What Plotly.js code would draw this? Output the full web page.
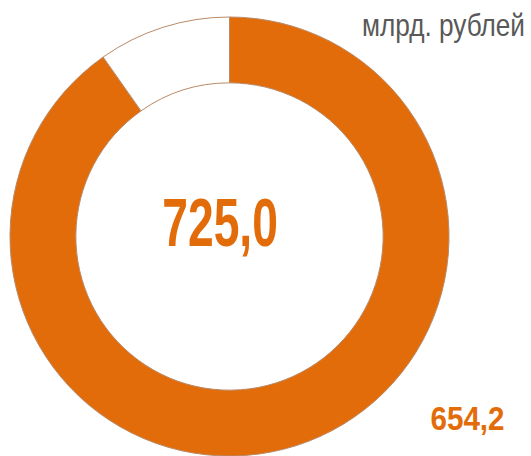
<!DOCTYPE html>
<html><head><meta charset="utf-8">
<script src="https://cdn.plot.ly/plotly-3.0.1.min.js"></script>
<style>html,body{margin:0;padding:0;background:#fff;}#c{width:531px;height:456px;}</style>
</head><body><div id="c"></div>
<script>
const labels = ["654,2", "остаток"];
const values = [654.2, 70.8];
const totalLabel = "725,0";
const unitLabel = "млрд. рублей";
const sliceColors = ["#E36C0A", "#FFFFFF"];

const trace = {
  type: "pie",
  labels: labels,
  values: values,
  hole: 0.70,
  sort: false,
  direction: "clockwise",
  rotation: 0,
  textinfo: "none",
  hoverinfo: "none",
  marker: {colors: sliceColors, line: {color: "#B98A68", width: 1}},
  domain: {x: [10/531, 449/531], y: [0, 1 - 17/456]},
  showlegend: false
};

const fam = "Liberation Sans, Arial, sans-serif";
const layout = {
  width: 531, height: 456,
  margin: {l: 0, r: 0, t: 0, b: 0},
  paper_bgcolor: "#fff",
  showlegend: false,
  annotations: [
    {text: "<b>" + totalLabel + "</b>", x: 220/531, y: 1 - 222/456, xref: "paper", yref: "paper",
     xanchor: "center", yanchor: "middle", showarrow: false,
     font: {family: fam, size: 68, color: "#E36C0A"}},
    {text: "<b>" + labels[0] + "</b>", x: 467/531, y: 1 - 418/456, xref: "paper", yref: "paper",
     xanchor: "center", yanchor: "middle", showarrow: false,
     font: {family: fam, size: 34, color: "#E36C0A"}},
    {text: unitLabel, x: 527/531, y: 1 - 26/456, xref: "paper", yref: "paper",
     xanchor: "right", yanchor: "middle", showarrow: false,
     font: {family: fam, size: 31, color: "#595959"}}
  ]
};

// horizontal condensing to mimic a narrow typeface: [scale, anchor]
const squeeze = [[0.68, "center"], [0.87, "center"], [0.845, "right"]];

Plotly.newPlot("c", [trace], layout, {displayModeBar: false, staticPlot: true}).then(function (gd) {
  const texts = gd.querySelectorAll("g.annotation text.annotation-text");
  texts.forEach(function (t, i) {
    if (!squeeze[i]) return;
    const bb = t.getBBox();
    const s = squeeze[i][0];
    const ax = squeeze[i][1] === "right" ? bb.x + bb.width : bb.x + bb.width / 2;
    const prev = t.getAttribute("transform") || "";
    t.setAttribute("transform", prev + " translate(" + ax + ",0) scale(" + s + ",1) translate(" + (-ax) + ",0)");
  });
});
</script>
</body></html>
